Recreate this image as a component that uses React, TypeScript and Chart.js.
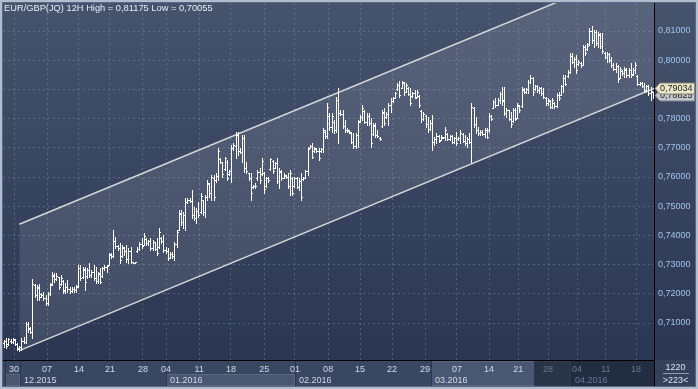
import { useEffect, useRef } from 'react';
import { Chart, registerables } from 'chart.js';

Chart.register(...registerables);

// ---------- data (EUR/GBP 12H) ----------
const opens = [
  .7030, .7038, .7028, .7040, .7034, .7042, .7028, .7015, .7018, .7040,
  .7035, .7095, .7082, .7068, .7230, .7195, .7222, .7198, .7195, .7185,
  .7170, .7200, .7232, .7262, .7250, .7258, .7232, .7245, .7212, .7225,
  .7215, .7210, .7218, .7212, .7226, .7288, .7258, .7282, .7260, .7280,
  .7265, .7275, .7255, .7245, .7268, .7262, .7288, .7292, .7300, .7334,
  .7330, .7380, .7362, .7358, .7330, .7358, .7345, .7320, .7345, .7308,
  .7306, .7346, .7355, .7370, .7368, .7388, .7375, .7380, .7358, .7376,
  .7355, .7360, .7392, .7380, .7350, .7345, .7324, .7336, .7328, .7370,
  .7420, .7475, .7445, .7470, .7515, .7522, .7518, .7470, .7460, .7485,
  .7480, .7520, .7480, .7530, .7575, .7545, .7598, .7590, .7605, .7660,
  .7650, .7626, .7650, .7610, .7620, .7700, .7705, .7745, .7690, .7685,
  .7735, .7630, .7612, .7595, .7565, .7570, .7595, .7618, .7610, .7615,
  .7570, .7595, .7626, .7655, .7632, .7648, .7585, .7618, .7598, .7605,
  .7600, .7570, .7598, .7570, .7595, .7565, .7588, .7592, .7598, .7620,
  .7700, .7705, .7690, .7695, .7690, .7690, .7695, .7755, .7740, .7810,
  .7770, .7790, .7760, .7865, .7820, .7815, .7775, .7760, .7758, .7752,
  .7720, .7705, .7745, .7792, .7805, .7825, .7790, .7808, .7785, .7748,
  .7775, .7745, .7735, .7775, .7820, .7805, .7815, .7845, .7860, .7870,
  .7900, .7915, .7905, .7922, .7892, .7905, .7885, .7878, .7888, .7875,
  .7878, .7825, .7800, .7810, .7780, .7765, .7785, .7720, .7730, .7740,
  .7728, .7735, .7736, .7748, .7730, .7740, .7720, .7735, .7730, .7735,
  .7748, .7725, .7715, .7730, .7720, .7838, .7780, .7760, .7750, .7755,
  .7748, .7760, .7760, .7808, .7838, .7858, .7848, .7862, .7885, .7862,
  .7820, .7828, .7800, .7792, .7828, .7802, .7842, .7842, .7898, .7892,
  .7900, .7925, .7940, .7900, .7910, .7898, .7905, .7888, .7872, .7852,
  .7860, .7840, .7855, .7842, .7880, .7882, .7910, .7940, .7945, .7960,
  .8015, .7995, .8005, .7988, .7990, .7985, .8045, .8040, .8055, .8100,
  .8070, .8095, .8060, .8088, .8050, .8025, .8012, .8020, .8000, .7985,
  .7970, .7980, .7940, .7962, .7955, .7968, .7950, .7965, .7952, .7965,
  .7945, .7920, .7922, .7912, .7898, .7910, .7888, .7890,
];

const highs = [
  .7042, .7048, .7048, .7044, .7048, .7044, .7030, .7021, .7048, .7053,
  .7105, .7105, .7088, .7250, .7234, .7230, .7234, .7202, .7207, .7196,
  .7207, .7236, .7276, .7270, .7270, .7259, .7264, .7247, .7236, .7247,
  .7224, .7224, .7224, .7230, .7299, .7299, .7293, .7293, .7287, .7304,
  .7282, .7299, .7293, .7276, .7287, .7293, .7299, .7299, .7341, .7339,
  .7419, .7396, .7367, .7373, .7367, .7361, .7367, .7356, .7361, .7310,
  .7310, .7361, .7379, .7390, .7407, .7390, .7384, .7390, .7384, .7379,
  .7390, .7424, .7396, .7401, .7361, .7356, .7344, .7344, .7379, .7419,
  .7487, .7487, .7481, .7527, .7527, .7527, .7556, .7498, .7493, .7516,
  .7544, .7521, .7538, .7590, .7578, .7607, .7607, .7613, .7698, .7664,
  .7652, .7670, .7658, .7624, .7710, .7715, .7755, .7755, .7698, .7744,
  .7744, .7653, .7613, .7613, .7573, .7578, .7624, .7630, .7664, .7618,
  .7601, .7601, .7664, .7658, .7653, .7664, .7630, .7624, .7613, .7607,
  .7613, .7624, .7601, .7601, .7601, .7595, .7613, .7601, .7624, .7704,
  .7710, .7715, .7704, .7698, .7698, .7698, .7767, .7761, .7852, .7818,
  .7818, .7795, .7875, .7904, .7829, .7829, .7795, .7767, .7761, .7755,
  .7750, .7750, .7795, .7812, .7846, .7829, .7818, .7818, .7801, .7784,
  .7784, .7761, .7738, .7829, .7835, .7824, .7852, .7869, .7875, .7892,
  .7921, .7930, .7930, .7926, .7921, .7909, .7904, .7892, .7898, .7898,
  .7881, .7830, .7824, .7812, .7807, .7795, .7812, .7738, .7750, .7744,
  .7744, .7738, .7772, .7750, .7744, .7744, .7738, .7755, .7738, .7761,
  .7750, .7744, .7738, .7750, .7852, .7841, .7807, .7772, .7761, .7761,
  .7767, .7767, .7818, .7812, .7864, .7869, .7869, .7892, .7909, .7909,
  .7835, .7830, .7824, .7835, .7835, .7852, .7847, .7909, .7904, .7904,
  .7932, .7949, .7944, .7915, .7915, .7909, .7909, .7904, .7875, .7869,
  .7864, .7869, .7858, .7887, .7892, .7915, .7949, .7949, .7966, .8024,
  .8024, .8012, .8018, .8001, .7995, .8052, .8052, .8058, .8109, .81175,
  .8103, .8103, .8098, .8092, .8092, .8029, .8029, .8024, .8012, .7989,
  .7989, .7984, .7978, .7966, .7978, .7972, .7972, .7989, .7972, .7995,
  .7949, .7926, .7926, .7921, .7915, .7915, .7909, .7892,
];

const lows = [
  .7019, .7013, .7025, .7030, .7030, .7025, .7008, .70055, .7008, .7030,
  .7030, .7070, .7065, .7048, .7190, .7179, .7179, .7190, .7179, .7162,
  .7162, .7196, .7230, .7242, .7247, .7215, .7230, .7202, .7204, .7207,
  .7204, .7207, .7207, .7207, .7224, .7247, .7253, .7213, .7253, .7259,
  .7259, .7247, .7236, .7236, .7236, .7259, .7282, .7276, .7299, .7322,
  .7327, .7356, .7350, .7304, .7327, .7333, .7310, .7304, .7304, .7304,
  .7304, .7344, .7350, .7356, .7367, .7367, .7367, .7350, .7350, .7350,
  .7333, .7356, .7373, .7344, .7339, .7316, .7322, .7322, .7316, .7361,
  .7419, .7436, .7424, .7419, .7510, .7516, .7458, .7453, .7441, .7464,
  .7476, .7470, .7464, .7521, .7533, .7521, .7521, .7584, .7590, .7647,
  .7601, .7624, .7590, .7607, .7584, .7692, .7664, .7675, .7681, .7653,
  .7618, .7613, .7590, .7521, .7561, .7561, .7590, .7578, .7607, .7544,
  .7567, .7584, .7624, .7613, .7630, .7578, .7561, .7590, .7595, .7595,
  .7561, .7538, .7538, .7567, .7561, .7555, .7521, .7590, .7595, .7607,
  .7698, .7664, .7687, .7687, .7658, .7687, .7687, .7732, .7732, .7761,
  .7755, .7750, .7755, .7715, .7812, .7767, .7755, .7755, .7750, .7715,
  .7698, .7698, .7704, .7790, .7795, .7784, .7778, .7778, .7704, .7744,
  .7738, .7738, .7727, .7772, .7778, .7801, .7778, .7824, .7858, .7869,
  .7898, .7875, .7904, .7881, .7892, .7881, .7847, .7875, .7869, .7875,
  .7841, .7790, .7795, .7772, .7755, .7761, .7693, .7710, .7715, .7721,
  .7727, .7732, .7727, .7727, .7727, .7715, .7715, .7710, .7727, .7715,
  .7721, .7710, .7704, .7715, .7652, .7772, .7750, .7744, .7744, .7744,
  .7738, .7732, .7755, .7795, .7835, .7841, .7847, .7852, .7847, .7812,
  .7807, .7795, .7772, .7790, .7795, .7801, .7824, .7841, .7887, .7887,
  .7887, .7921, .7881, .7898, .7892, .7887, .7881, .7869, .7847, .7847,
  .7835, .7835, .7835, .7841, .7864, .7881, .7892, .7915, .7944, .7955,
  .7989, .7978, .7955, .7984, .7978, .7984, .8018, .8035, .8052, .8058,
  .8046, .8052, .8046, .8041, .8024, .8006, .7995, .7995, .7978, .7966,
  .7961, .7926, .7938, .7949, .7944, .7944, .7944, .7944, .7949, .7955,
  .7915, .7915, .7909, .7892, .7892, .7881, .7864, .7872,
];

const closes = [
  .7038, .7020, .7044, .7034, .7045, .7028, .7012, .7018, .7040, .7035,
  .7095, .7080, .7070, .7235, .7195, .7220, .7190, .7195, .7185, .7170,
  .7200, .7230, .7265, .7250, .7262, .7225, .7255, .7210, .7225, .7215,
  .7210, .7218, .7212, .7225, .7290, .7255, .7285, .7240, .7280, .7265,
  .7275, .7255, .7245, .7270, .7240, .7288, .7292, .7295, .7335, .7328,
  .7380, .7365, .7358, .7315, .7360, .7345, .7320, .7345, .7310, .7306,
  .7309, .7355, .7372, .7362, .7398, .7375, .7380, .7358, .7378, .7355,
  .7340, .7410, .7380, .7350, .7345, .7322, .7338, .7328, .7370, .7410,
  .7478, .7445, .7470, .7515, .7522, .7518, .7470, .7460, .7485, .7470,
  .7535, .7480, .7530, .7580, .7545, .7600, .7530, .7605, .7690, .7652,
  .7610, .7665, .7598, .7620, .7700, .7708, .7745, .7690, .7685, .7735,
  .7630, .7620, .7595, .7545, .7570, .7568, .7618, .7590, .7655, .7560,
  .7595, .7590, .7660, .7620, .7648, .7585, .7620, .7595, .7608, .7600,
  .7570, .7615, .7545, .7595, .7565, .7588, .7530, .7598, .7620, .7695,
  .7705, .7670, .7700, .7690, .7665, .7695, .7760, .7740, .7840, .7770,
  .7810, .7760, .7865, .7820, .7815, .7775, .7760, .7762, .7755, .7720,
  .7705, .7745, .7790, .7805, .7835, .7790, .7810, .7785, .7715, .7778,
  .7745, .7742, .7730, .7822, .7785, .7815, .7845, .7860, .7870, .7888,
  .7915, .7880, .7925, .7890, .7915, .7885, .7855, .7888, .7872, .7892,
  .7845, .7800, .7815, .7780, .7765, .7785, .7720, .7730, .7740, .7725,
  .7738, .7736, .7760, .7730, .7740, .7720, .7735, .7715, .7735, .7750,
  .7725, .7715, .7730, .7720, .7840, .7780, .7760, .7750, .7755, .7748,
  .7760, .7738, .7810, .7800, .7858, .7845, .7862, .7885, .7860, .7820,
  .7830, .7800, .7780, .7828, .7800, .7845, .7830, .7900, .7892, .7900,
  .7925, .7940, .7890, .7910, .7898, .7905, .7888, .7875, .7852, .7862,
  .7840, .7862, .7842, .7880, .7870, .7910, .7940, .7920, .7960, .8015,
  .7995, .8005, .7965, .7995, .7985, .8045, .8025, .8050, .8100, .8070,
  .8095, .8060, .8090, .8050, .8030, .8012, .8020, .8000, .7985, .7970,
  .7980, .7935, .7970, .7955, .7970, .7950, .7965, .7950, .7965, .7985,
  .7920, .7922, .7912, .7898, .7910, .7888, .7895, .78825,
];

// bottom axis: day labels and where they fall on the bar index axis
const dayLabels = ['30', '07', '14', '21', '28', '04', '11', '18', '25', '01', '08', '15', '22', '29', '07', '14', '21', '28', '04', '11', '18'];
const dayTickIndex = [4.6, 19.7, 34.3, 48.5, 63.6, 74.2, 89.3, 103.9, 119.1, 133.2, 148.4, 163.0, 177.7, 192.8, 207.4, 222.1, 235.4, 249.1, 262.4, 275.6, 289.4];

// month row
const monthLabels = ['', '12.2015', '01.2016', '02.2016', '03.2016', '04.2016'];
const monthStartIndex = [0.4, 7.3, 74.2, 133.2, 195.5, 259.6];
const dimStartIndex = 242.7;

// right axis
const priceTicks = [0.71, 0.72, 0.73, 0.74, 0.75, 0.76, 0.77, 0.78, 0.79, 0.80, 0.81];

// visible range
const xMin = -0.46;
const xMax = 297.6;
const yMin = 0.69733;
const yMax = 0.81959;

// regression channel anchors
const channelX = [7, 297.6];
const channelLower = [0.70055, 0.79034];
const channelUpper = [0.7438, 0.83359];

const titleText = 'EUR/GBP(JQ) 12H High = 0,81175 Low = 0,70055';
const totalBars = '1220';
const visibleBars = '>223<';

const FONT = '"Liberation Sans", Arial, sans-serif';

export default function App() {
  const ref = useRef<HTMLCanvasElement>(null);

  useEffect(() => {
    document.body.style.margin = '0';
    const canvas = ref.current;
    if (!canvas) return;
    const fmt = (v: number) => v.toFixed(5).replace('.', ',');

    const bgPlugin = {
      id: 'bgPlugin',
      beforeDraw(chart: any) {
        const { ctx, chartArea: a, scales } = chart;
        const W = chart.width;
        const H = chart.height;
        const xs = scales.x;
        ctx.save();
        ctx.fillStyle = '#b2bdcd';
        ctx.fillRect(0, 0, W, H);
        ctx.fillStyle = '#5a6781';
        ctx.fillRect(2, 2, W - 4, H - 4);
        const g = ctx.createLinearGradient(0, a.top, 0, a.bottom);
        g.addColorStop(0, '#46536d');
        g.addColorStop(1, '#2a3652');
        ctx.fillStyle = g;
        ctx.fillRect(3, 3, W - 6, a.bottom - 3);
        // bottom panel
        const pTop = a.bottom;
        const pBot = H - 3;
        const rowY = pTop + 14;
        ctx.fillStyle = '#3a4762';
        ctx.fillRect(3, pTop, W - 6, pBot - pTop);
        // month boxes (alternating shading)
        for (let i = 0; i < monthStartIndex.length; i++) {
          const s = Math.max(a.left, Math.round(xs.getPixelForValue(monthStartIndex[i])));
          const eVal = i + 1 < monthStartIndex.length ? monthStartIndex[i + 1] : xMax;
          const e = Math.min(a.right, Math.round(xs.getPixelForValue(eVal)));
          if (i % 2 === 0) {
            ctx.fillStyle = '#4a5772';
            const top = i === 4 ? pTop + 1 : rowY;
            ctx.fillRect(s, top, e - s, pBot - top);
            ctx.strokeStyle = '#5b6883';
            ctx.lineWidth = 1;
            ctx.strokeRect(s + 0.5, top + 0.5, e - s - 1, pBot - top - 1);
          }
          ctx.fillStyle = '#2c3650';
          ctx.fillRect(s, pTop + 1, 1, pBot - pTop - 1);
        }
        // dimmed part of the time axis
        const d = Math.round(xs.getPixelForValue(dimStartIndex));
        ctx.fillStyle = 'rgba(16,23,40,0.55)';
        ctx.fillRect(d, pTop + 1, a.right - d, pBot - pTop - 1);
        // corner box
        ctx.fillStyle = '#34415b';
        ctx.fillRect(a.right, pTop, W - 3 - a.right, pBot - pTop);
        ctx.restore();
      },
    };

    const ohlcPlugin = {
      id: 'ohlcPlugin',
      afterDatasetsDraw(chart: any) {
        const { ctx, chartArea: a, scales } = chart;
        const xs = scales.x;
        const ys = scales.y;
        ctx.save();
        ctx.beginPath();
        ctx.rect(a.left, a.top, a.right - a.left, a.bottom - a.top);
        ctx.clip();
        ctx.fillStyle = '#ffffff';
        for (let i = 0; i < highs.length; i++) {
          const px = Math.round(xs.getPixelForValue(i));
          const yh = Math.round(ys.getPixelForValue(highs[i]));
          const yl = Math.round(ys.getPixelForValue(lows[i]));
          const yo = Math.round(ys.getPixelForValue(opens[i]));
          const yc = Math.round(ys.getPixelForValue(closes[i]));
          ctx.fillRect(px, yh, 1, Math.max(1, yl - yh + 1));
          ctx.fillRect(px - 1, yo, 1, 1);
          ctx.fillRect(px + 1, yc, 1, 1);
        }
        ctx.restore();
      },
    };

    const overlayPlugin = {
      id: 'overlayPlugin',
      afterDraw(chart: any) {
        const { ctx, chartArea: a, scales } = chart;
        const W = chart.width;
        const H = chart.height;
        const xs = scales.x;
        const ys = scales.y;
        ctx.save();
        // separators
        ctx.fillStyle = '#000000';
        ctx.fillRect(3, a.bottom, a.right - 3 + 1, 1);
        ctx.fillRect(a.right, 3, 1, H - 6);
        // title
        ctx.font = `9.3px ${FONT}`;
        ctx.textBaseline = 'top';
        ctx.textAlign = 'left';
        ctx.fillStyle = '#e8edf6';
        ctx.fillText(titleText, 4, 4);
        // month labels
        ctx.font = `9px ${FONT}`;
        ctx.textBaseline = 'middle';
        for (let i = 0; i < monthLabels.length; i++) {
          if (!monthLabels[i]) continue;
          const s = Math.round(xs.getPixelForValue(monthStartIndex[i]));
          ctx.fillStyle = monthStartIndex[i] >= dimStartIndex ? '#6a7792' : '#d3dae8';
          ctx.fillText(monthLabels[i], s + 4, a.bottom + 20.5);
        }
        // corner counters
        const cx = (a.right + W - 3) / 2 + 1;
        ctx.textAlign = 'center';
        ctx.fillStyle = '#dde3ee';
        ctx.fillText(totalBars, cx, a.bottom + 8);
        ctx.fillText(visibleBars, cx, a.bottom + 20.5);
        ctx.fillStyle = '#8e9ab0';
        ctx.fillRect(a.right + 9, a.bottom + 13, 26, 1);
        // price tags
        const tag = (value: number, fill: string, stroke: string) => {
          const yc = Math.round(ys.getPixelForValue(value)) + 0.5;
          const l = a.right + 1;
          const r = W - 3.5;
          ctx.beginPath();
          ctx.moveTo(l, yc);
          ctx.lineTo(l + 5, yc - 5.5);
          ctx.lineTo(r, yc - 5.5);
          ctx.lineTo(r, yc + 5.5);
          ctx.lineTo(l + 5, yc + 5.5);
          ctx.closePath();
          ctx.fillStyle = fill;
          ctx.fill();
          ctx.strokeStyle = stroke;
          ctx.lineWidth = 1;
          ctx.stroke();
          ctx.fillStyle = '#1c1c1c';
          ctx.textAlign = 'left';
          ctx.textBaseline = 'middle';
          ctx.font = `9px ${FONT}`;
          ctx.fillText(fmt(value), l + 5, yc + 0.5);
        };
        tag(closes[closes.length - 1], '#c3c7cc', '#7d828a');
        tag(channelLower[1], '#ebe7cb', '#85826a');
        ctx.restore();
      },
    };

    const gridColor = 'rgba(128,146,180,0.45)';

    const chart = new Chart(canvas, {
      type: 'line',
      data: {
        datasets: [
          {
            label: 'channel low',
            data: channelX.map((x, i) => ({ x, y: channelLower[i] })),
            borderColor: '#d6d6d6',
            borderWidth: 1.5,
            pointRadius: 0,
            fill: false,
          },
          {
            label: 'channel high',
            data: channelX.map((x, i) => ({ x, y: channelUpper[i] })),
            borderColor: '#d6d6d6',
            borderWidth: 1.5,
            pointRadius: 0,
            fill: '-1',
            backgroundColor: 'rgba(255,255,255,0.1)',
          },
        ],
      },
      options: {
        responsive: false,
        animation: false,
        events: [],
        layout: { padding: { left: 3, top: 3, right: 3, bottom: 3 } },
        plugins: {
          legend: { display: false },
          tooltip: { enabled: false },
          title: { display: false },
        },
        scales: {
          x: {
            type: 'linear',
            min: xMin,
            max: xMax,
            afterBuildTicks: (s: any) => {
              s.ticks = dayTickIndex.map((v) => ({ value: v }));
            },
            afterFit: (s: any) => {
              s.height = 26;
              s.paddingLeft = 0;
              s.paddingRight = 0;
              s.paddingTop = 0;
              s.paddingBottom = 0;
            },
            grid: { color: gridColor, drawTicks: false, lineWidth: 1 },
            border: { display: false, dash: [2, 3] },
            ticks: {
              autoSkip: false,
              maxRotation: 0,
              padding: 4,
              font: { family: FONT, size: 9 },
              color: (c: any) => (c.tick && c.tick.value >= dimStartIndex ? '#6a7792' : '#d3dae8'),
              callback: (_v: any, i: number) => dayLabels[i],
            },
          },
          y: {
            type: 'linear',
            position: 'right',
            min: yMin,
            max: yMax,
            afterBuildTicks: (s: any) => {
              s.ticks = priceTicks.map((v) => ({ value: v }));
            },
            afterFit: (s: any) => {
              s.width = 41;
              s.paddingLeft = 0;
              s.paddingRight = 0;
              s.paddingTop = 0;
              s.paddingBottom = 0;
            },
            grid: { color: gridColor, drawTicks: false, lineWidth: 1 },
            border: { display: false, dash: [2, 3] },
            ticks: {
              padding: 4,
              font: { family: FONT, size: 9 },
              color: '#a3c3ec',
              callback: (v: any) => fmt(Number(v)),
            },
          },
        },
      } as any,
      plugins: [bgPlugin, ohlcPlugin, overlayPlugin],
    });

    return () => {
      chart.destroy();
    };
  }, []);

  return (
    <canvas
      ref={ref}
      width={698}
      height={389}
      style={{ display: 'block', width: 698, height: 389 }}
    />
  );
}
